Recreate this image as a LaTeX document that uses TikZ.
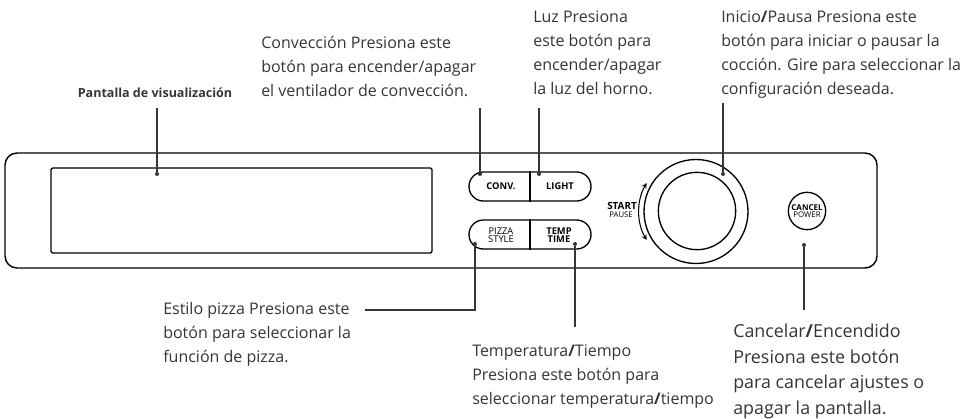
\documentclass[tikz,border=0pt]{standalone}
\usepackage{fontspec}
\setmainfont{Open Sans}
\usetikzlibrary{shapes,shapes.geometric,arrows,positioning}
\definecolor{inkgray}{HTML}{353535}
\newcommand{\bslash}{{\bfseries /}}
\tikzstyle{callout} = [anchor=north west, align=left, inner sep=0pt, text=inkgray, font=\fontsize{12}{18}\selectfont]
\tikzstyle{bigcallout} = [anchor=north west, align=left, inner sep=0pt, text=inkgray, font=\fontsize{13.4}{19.1}\selectfont]
\tikzstyle{pill} = [rectangle, rounded corners=10.8pt, minimum width=91.5pt, minimum height=21.75pt, draw=black, line width=1pt]
\tikzstyle{btnbold} = [inner sep=0pt, align=center, font=\fontsize{7}{6.3}\selectfont\bfseries]
\tikzstyle{btnthin} = [inner sep=0pt, align=center, font=\fontsize{7}{6.3}\selectfont]
\tikzstyle{dot} = [circle, fill=inkgray, inner sep=0pt, minimum size=3pt]
\tikzstyle{leader} = [line width=1.5pt, draw=inkgray]

\begin{document}
\begin{tikzpicture}[x=0.75pt, y=-0.75pt]
\useasboundingbox (0,0) rectangle (963,418);
%
% Panel
%
\draw [line width=1.1pt, rounded corners=9pt] (5,153) rectangle (877,268);
\draw [line width=1pt, rounded corners=1.5pt] (51,168) rectangle (432,253);
%
% Define nodes
%
\node (pilltop) [pill] at (530,186.5) {};
\node (pillbot) [pill] at (530,234.5) {};
\draw [line width=1pt] (pilltop.north) -- (pilltop.south);
\draw [line width=1pt] (pillbot.north) -- (pillbot.south);
\node (conv) [btnbold] at (501,186.5) {CONV.};
\node (light) [btnbold] at (560,186.5) {LIGHT};
\node (pizza) [btnthin] at (501,235) {PIZZA\\STYLE};
\node (temp) [btnbold] at (559,235) {TEMP\\TIME};
\node (knob) [circle, draw=black, line width=1pt, minimum size=78pt] at (696,211.5) {};
\node (knobin) [circle, draw=black, line width=1pt, minimum size=58pt] at (697,211) {};
\draw [line width=0.8pt, <->, >=stealth] ([shift={(150:42.75pt)}]knob.center) arc (150:210:42.75pt);
\node (startlbl) [anchor=base, inner sep=0pt, font=\fontsize{7.4}{6}\selectfont\bfseries] at (622,209) {START};
\node (pauselbl) [anchor=base, inner sep=0pt, font=\fontsize{5.8}{5}\selectfont] at (621,217) {PAUSE};
\node (cancel) [circle, draw=black, line width=1pt, minimum size=28pt] at (807,211) {};
\node (cancellbl) [anchor=base, inner sep=0pt, font=\fontsize{6}{5}\selectfont\bfseries] at (807,210) {CANCEL};
\node (powerlbl) [anchor=base, inner sep=0pt, font=\fontsize{5.9}{5}\selectfont] at (807,217.5) {POWER};
%
% Callouts
%
\node (displbl) [anchor=base, inner sep=0pt, text=inkgray, font=\fontsize{9.4}{9}\selectfont\bfseries] at (155,97) {Pantalla de visualización};
\node (convtext) [callout] at (261,36) {Convección Presiona este\\botón para encender/apagar\\el ventilador de convección.};
\node (lighttext) [callout] at (533,10) {Luz Presiona\\este botón para\\encender/apagar\\la luz del horno.};
\node (starttext) [callout] at (721,10) {Inicio\bslash Pausa Presiona este\\botón para iniciar o pausar la\\cocción. Gire para seleccionar la\\configuración deseada.};
\node (pizzatext) [callout] at (163,302) {Estilo pizza Presiona este\\botón para seleccionar la\\función de pizza.};
\node (temptext) [callout] at (472,344) {Temperatura\bslash Tiempo\\Presiona este botón para\\seleccionar temperatura\bslash tiempo};
\node (canceltext) [bigcallout] at (733,324) {Cancelar\bslash Encendido\\Presiona este botón\\para cancelar ajustes o\\apagar la pantalla.};
%
% Leader ends
%
\node (dispdot) [dot] at (157,174) {};
\node (convdot) [dot] at (480,174) {};
\node (lightdot) [dot] at (539,174) {};
\node (startdot) [dot] at (723,174) {};
\node (pizzadot) [dot] at (475,244) {};
\node (tempdot) [dot] at (575,244) {};
\node (canceldot) [dot] at (804,245) {};
\coordinate (disptop) at (157,108);
\coordinate (convtop) at (480,108);
\coordinate (lighttop) at (539,108);
\coordinate (starttop) at (723,103);
\coordinate (pizzaend) at (365,310);
\coordinate (tempend) at (575,327);
\coordinate (cancelend) at (804,310);
%
% Connect nodes
%
\draw [leader] (disptop) -- (dispdot);
\draw [leader] (convtop) -- (convdot);
\draw [leader] (lighttop) -- (lightdot);
\draw [leader] (starttop) -- (startdot);
\draw [leader] (pizzadot) |- (pizzaend);
\draw [leader] (tempdot) -- (tempend);
\draw [leader] (canceldot) -- (cancelend);
\end{tikzpicture}
\end{document}
